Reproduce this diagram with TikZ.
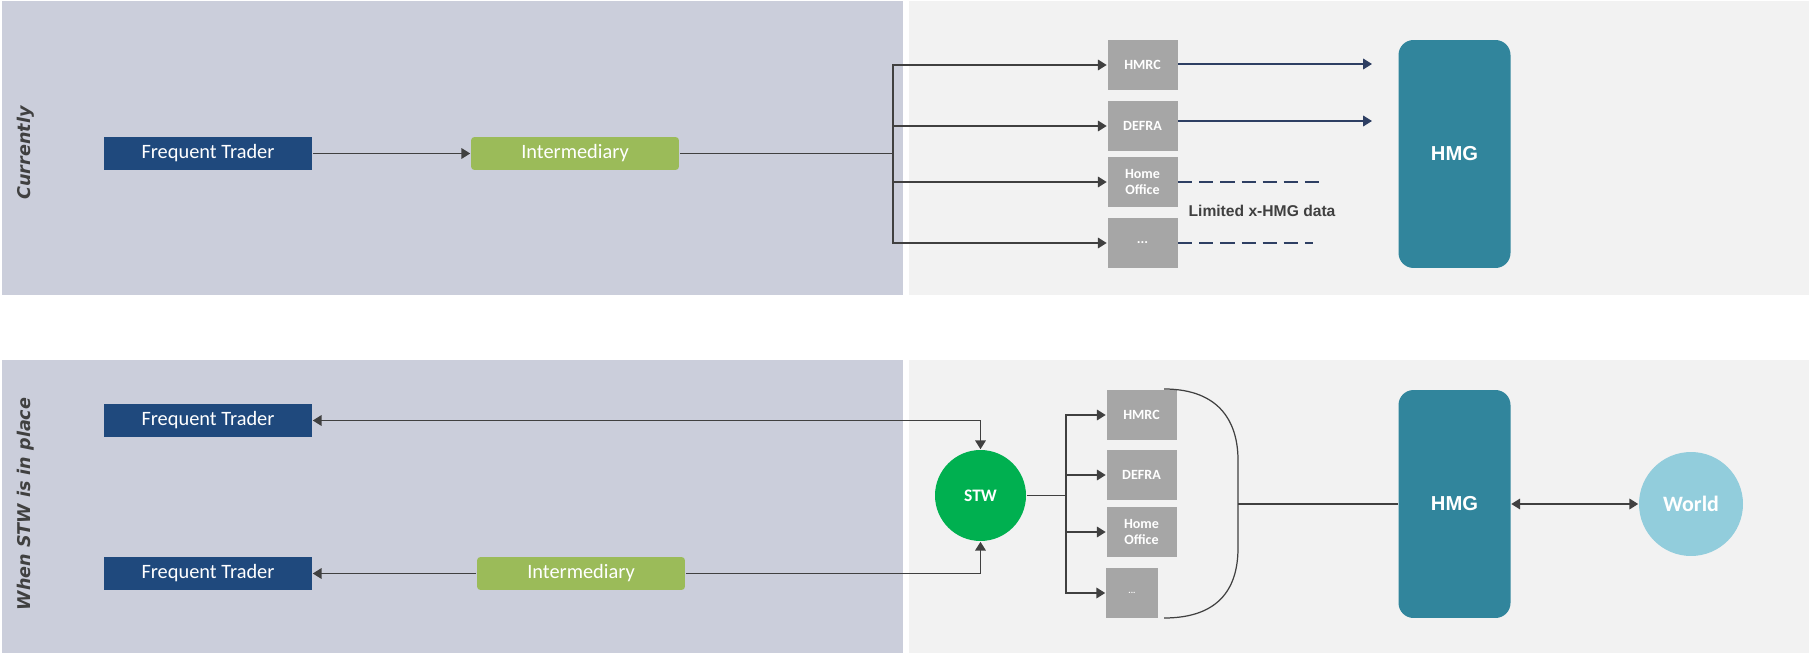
\documentclass[tikz,border=0pt]{standalone}
\usepackage{fontspec}
\usetikzlibrary{arrows.meta}
\newfontfamily\carlito{Carlito}
\newfontfamily\arialf{Liberation Sans}
\newfontfamily\sidefont{DejaVu Sans}
\definecolor{lav}{HTML}{CBCEDB}
\definecolor{pale}{HTML}{F2F2F2}
\definecolor{navy}{HTML}{1F497D}
\definecolor{olive}{HTML}{9BBB59}
\definecolor{dgrey}{HTML}{A6A6A6}
\definecolor{hmgblue}{HTML}{31859C}
\definecolor{stwgreen}{HTML}{00B050}
\definecolor{worldblue}{HTML}{92CDDC}
\definecolor{linegrey}{HTML}{404040}
\definecolor{darknavy}{HTML}{2E3F63}

\begin{document}
\begin{tikzpicture}[x=0.02cm, y=-0.02cm, >={Triangle[length=5pt,width=6pt]},
    line width=0.9pt, draw=linegrey,
    trader/.style={fill=navy, text=white, minimum width=4.16cm, minimum height=0.66cm, inner sep=0pt,
        font=\carlito\fontsize{11.6}{13}\selectfont},
    inter/.style={fill=olive, text=white, rounded corners=2pt, minimum width=4.16cm, minimum height=0.66cm,
        inner sep=0pt, font=\carlito\fontsize{11.6}{13}\selectfont},
    dept/.style={fill=dgrey, text=white, minimum width=1.4cm, minimum height=1cm, inner sep=0pt,
        align=center, font=\carlito\bfseries\fontsize{8}{8.6}\selectfont},
    hmg/.style={fill=hmgblue, text=white, rounded corners=0.3cm, minimum width=2.24cm, minimum height=4.56cm,
        inner sep=0pt, font=\arialf\bfseries\fontsize{11.5}{13}\selectfont},
    stw/.style={circle, fill=stwgreen, text=white, minimum size=1.82cm, inner sep=0pt,
        font=\carlito\bfseries\fontsize{10}{12}\selectfont},
    world/.style={circle, fill=worldblue, text=white, minimum size=2.08cm, inner sep=0pt,
        font=\carlito\bfseries\fontsize{12.5}{14}\selectfont},
    side/.style={text=linegrey, font=\sidefont\bfseries\itshape\fontsize{10}{12}\selectfont},
    note/.style={text=linegrey, font=\arialf\bfseries\fontsize{8.9}{10}\selectfont},
    navyline/.style={draw=darknavy},
    limline/.style={draw=darknavy, dash pattern=on 8pt off 4pt}]

    \useasboundingbox (0,0) rectangle (1809,655);

    % panels
    \fill[lav] (2,1) rectangle (903,295);
    \fill[pale] (909,1) rectangle (1809,295);
    \fill[lav] (2,360) rectangle (903,653);
    \fill[pale] (909,360) rectangle (1809,653);

    \node[side, rotate=90] (cur) at (26,153) {Currently};
    \node[side, rotate=90] (when) at (26,504) {When STW is in place};

    % currently
    \node[trader] (ft) at (208,153.5) {Frequent Trader};
    \node[inter] (im) at (575,153.5) {Intermediary};
    \node[dept] (hmrc) at (1142.5,65) {HMRC};
    \node[dept] (defra) at (1142.5,126) {DEFRA};
    \node[dept] (ho) at (1142.5,182) {Home\\Office};
    \node[dept] (etc) at (1142.5,243) {...};
    \node[hmg] (hmg) at (1454.5,154) {HMG};
    \node[note] (lim) at (1262,211) {Limited x-HMG data};

    \coordinate (bus) at (893,153.5);
    \coordinate (ha) at (1372,64);
    \coordinate (hb) at (1372,121);
    \coordinate (la) at (1319,182);
    \coordinate (lb) at (1313,243);

    \draw [->] (ft) -- (im);
    \draw (im) -- (bus);
    \foreach \d in {hmrc,defra,ho,etc}
        \draw [->] (bus) |- (\d);
    \draw [navyline,->] (hmrc.east |- ha) -- (ha);
    \draw [navyline,->] (defra.east |- hb) -- (hb);
    \draw [limline] (ho) -- (la);
    \draw [limline] (etc) -- (lb);

    % when STW is in place
    \node[trader] (ftb) at (208,420.5) {Frequent Trader};
    \node[trader] (ftc) at (208,573.5) {Frequent Trader};
    \node[inter] (imb) at (581,573.5) {Intermediary};
    \node[stw] (stw) at (980.5,495.5) {STW};
    \node[dept] (hmrcb) at (1141.5,415) {HMRC};
    \node[dept] (defrab) at (1141.5,475) {DEFRA};
    \node[dept] (hob) at (1141.5,532) {Home\\Office};
    \node[dept, minimum width=1.04cm, font=\carlito\bfseries\fontsize{5}{6}\selectfont] (etcb) at (1132,593) {...};
    \node[hmg] (hmgb) at (1454.5,504) {HMG};
    \node[world] (world) at (1691,504) {World};

    \coordinate (busb) at (1066,495.5);
    \coordinate (br) at (1238,504);

    \draw [<->] (ftb) -| (stw);
    \draw [->] (imb) -- (ftc);
    \draw [->] (imb) -| (stw);
    \draw (stw) -- (busb);
    \foreach \d in {hmrcb,defrab,hob,etcb}
        \draw [->] (busb) |- (\d);
    \draw [line width=0.7pt] (1164,389) .. controls (1222,389) and (1238,425) .. (1238,460)
        -- (1238,548) .. controls (1238,585) and (1222,618) .. (1164,618);
    \draw (br) -- (hmgb);
    \draw [<->] (hmgb) -- (world);

\end{tikzpicture}
\end{document}
